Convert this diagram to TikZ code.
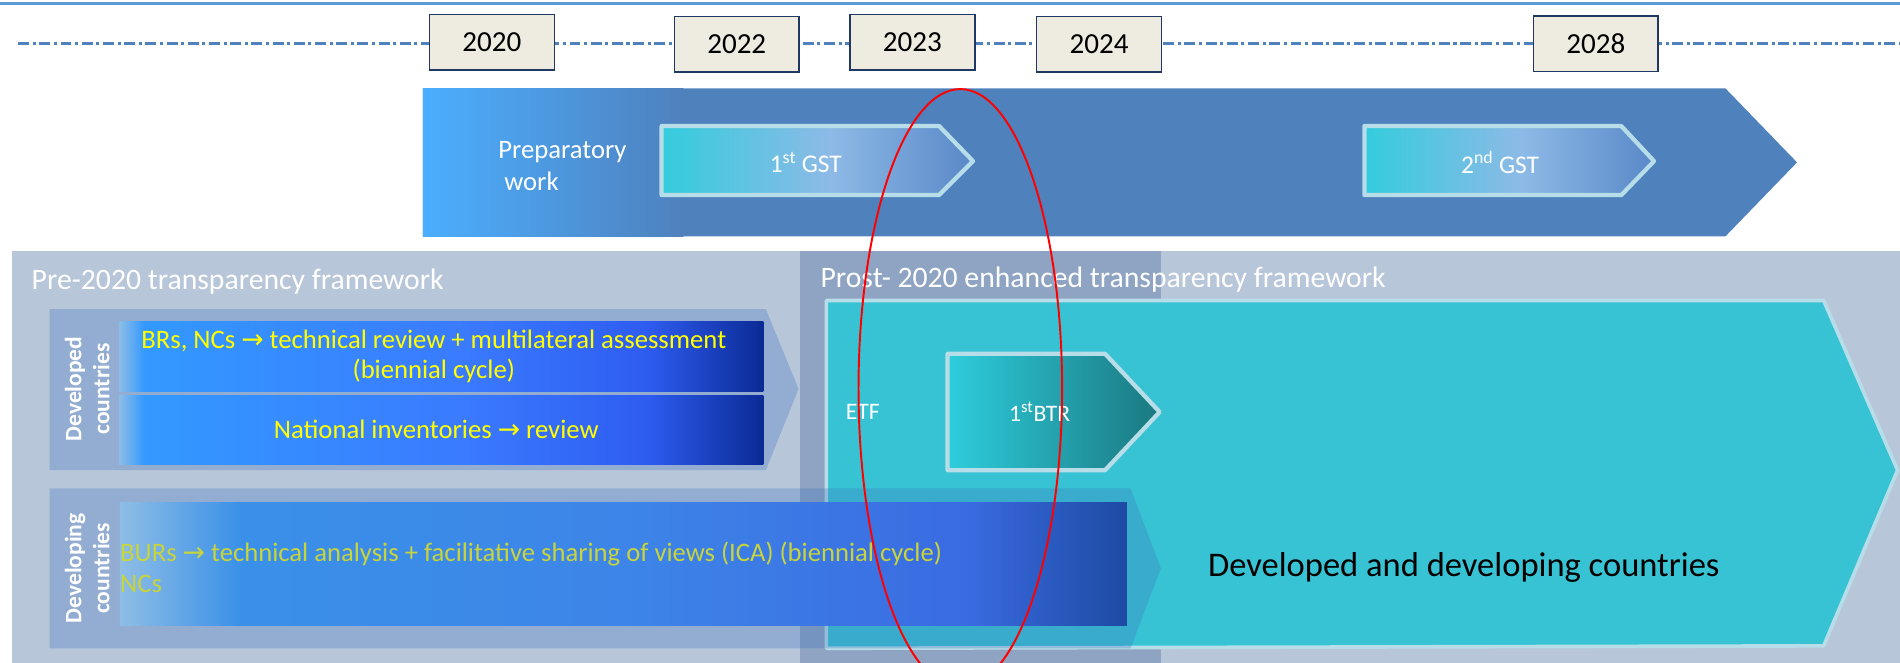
\documentclass[tikz,border=0pt]{standalone}
\usepackage{fontspec}
\setmainfont{Carlito}
\newfontfamily\arrowfont{DejaVu Sans}
\usetikzlibrary{positioning}

\definecolor{topline}{HTML}{5B9BD5}
\definecolor{dashline}{HTML}{4F81BD}
\definecolor{yearfill}{HTML}{EEECE1}
\definecolor{yeardraw}{HTML}{1F3864}
\definecolor{steel}{HTML}{4F81BD}
\definecolor{skyblue}{HTML}{4BAEFF}
\definecolor{paleedge}{HTML}{B7DEE8}
\definecolor{panelbg}{HTML}{B8C6DA}
\definecolor{stripbg}{HTML}{8EA4C2}
\definecolor{groupblue}{HTML}{3D75BD}
\definecolor{etfcyan}{HTML}{38C3D4}
\definecolor{btrleft}{HTML}{2ECDDD}
\definecolor{btrright}{HTML}{1A7880}
\definecolor{gstleft}{HTML}{33CCDD}
\definecolor{gstmid}{HTML}{8DBAE6}
\definecolor{gstright}{HTML}{5A88C8}
\definecolor{barpale}{HTML}{8EBDE6}
\definecolor{devdA}{HTML}{3399FF}
\definecolor{devdB}{HTML}{3A7AFF}
\definecolor{devdC}{HTML}{2E5CF0}
\definecolor{devdD}{HTML}{0A2A95}
\definecolor{devgA}{HTML}{3A90E8}
\definecolor{devgB}{HTML}{3D85E8}
\definecolor{devgC}{HTML}{3A6BE2}
\definecolor{devgD}{HTML}{1D4AA3}
\definecolor{devyellow}{HTML}{FFFF00}
\definecolor{oliveyellow}{HTML}{C8D43C}

\pgfdeclarehorizontalshading{gstshade}{100bp}{color(0bp)=(gstleft); color(25bp)=(gstleft); color(52bp)=(gstmid); color(75bp)=(gstright); color(100bp)=(gstright)}
\pgfdeclarehorizontalshading{devdshade}{100bp}{color(0bp)=(barpale); color(25bp)=(barpale); color(27bp)=(devdA); color(52bp)=(devdB); color(66bp)=(devdC); color(75bp)=(devdD); color(100bp)=(devdD)}
\pgfdeclarehorizontalshading{devgshade}{100bp}{color(0bp)=(barpale); color(25bp)=(barpale); color(31bp)=(devgA); color(50bp)=(devgB); color(67bp)=(devgC); color(75bp)=(devgD); color(100bp)=(devgD)}

\newcommand{\toarrow}{{\arrowfont →}}

\begin{document}
\begin{tikzpicture}[
            x=1pt, y=-1pt,
            yearbox/.style={draw=yeardraw, line width=1.3pt, fill=yearfill, minimum width=103pt, minimum height=46pt, inner sep=0pt, font=\fontsize{24}{28}\selectfont},
            whitetxt/.style={text=white, inner sep=0pt},
            chevedge/.style={draw=paleedge, line width=3.5pt, line join=round},
            grouppanel/.style={fill=groupblue, fill opacity=.3},
            sidelbl/.style={text=white, rotate=90, align=center, inner sep=0pt, font=\bfseries\fontsize{19.4}{23}\selectfont},
            bartxt/.style={text=devyellow, align=center, inner sep=0pt, font=\fontsize{22}{25}\selectfont},
            titletxt/.style={whitetxt, anchor=west, font=\fontsize{24.5}{29}\selectfont}
        ]
            \useasboundingbox (0,0) rectangle (1568,547);

            % Timeline with years
            \draw[topline, line width=2pt] (0,3) -- (1568,3);
            \draw[dashline, line width=2pt, dash pattern=on 9pt off 3pt on 2.5pt off 3pt] (15,36) -- (1568,36);
            \node[yearbox] (y2020) at (406,35) {2020};
            \node[yearbox] (y2022) at (608,36.5) {2022};
            \node[yearbox] (y2023) at (753,35) {2023};
            \node[yearbox] (y2024) at (907,36.5) {2024};
            \node[yearbox] (y2028) at (1317,36) {2028};

            % Global stocktake arrow
            \fill[steel] (349,73) -- (1424,73) -- (1483,134) -- (1424,195) -- (349,195) -- cycle;
            \shade[left color=skyblue, right color=steel] (349,73) rectangle (564,195);
            \node[whitetxt, anchor=west, align=left, font=\fontsize{22}{26}\selectfont] (prep) at (411,137) {Preparatory\\\hspace*{5pt}work};
            \shadedraw[shading=gstshade, chevedge] (546,104) -- (775,104) -- (803,133) -- (775,161) -- (546,161) -- cycle;
            \node[whitetxt, font=\fontsize{21}{24}\selectfont] (gst1) at (665,134) {1\textsuperscript{st} GST};
            \shadedraw[shading=gstshade, chevedge] (1126,104) -- (1338,104) -- (1365,133) -- (1338,161) -- (1126,161) -- cycle;
            \node[whitetxt, font=\fontsize{21}{24}\selectfont] (gst2) at (1238,134) {2\textsuperscript{nd} GST};

            % Transparency frameworks
            \fill[panelbg] (10,207) rectangle (1568,547);
            \fill[stripbg] (660,207) rectangle (958,547);
            \node[titletxt] (pre) at (26,232) {Pre-2020 transparency framework};
            \node[titletxt] (post) at (677,231) {Prost- 2020 enhanced transparency framework};

            % Developed countries
            \fill[grouppanel] (41,255) -- (632,255) -- (659,321) -- (632,388) -- (41,388) -- cycle;
            \shade[shading=devdshade] (98,265) rectangle (630,323);
            \shade[shading=devdshade] (98,326) rectangle (630,383);
            \node[sidelbl] (devd) at (72,321) {Developed\\countries};
            \node[bartxt] (brs) at (358,294) {BRs, NCs \toarrow{} technical review + multilateral assessment\\(biennial cycle)};
            \node[bartxt] (nir) at (360,354) {National inventories \toarrow{} review};

            % Enhanced transparency framework
            \filldraw[fill=etfcyan, draw=paleedge, line width=3pt, line join=round] (682,248) -- (1505,248) -- (1566,388) -- (1505,533) -- (682,535) -- cycle;
            \node[whitetxt, font=\fontsize{19.5}{23}\selectfont] (etf) at (712,340) {ETF};
            \shadedraw[left color=btrleft, right color=btrright, chevedge] (782,292) -- (912,292) -- (957,340) -- (912,388) -- (782,388) -- cycle;
            \node[whitetxt, font=\fontsize{19.5}{23}\selectfont] (btr) at (858,340) {1\textsuperscript{st}BTR};
            \node[inner sep=0pt, font=\fontsize{28.5}{32}\selectfont] (all) at (1208,468) {Developed and developing countries};

            % Developing countries
            \fill[grouppanel] (41,403) -- (933,403) -- (958,469) -- (933,535) -- (41,535) -- cycle;
            \shade[shading=devgshade] (99,415) rectangle (930,516);
            \node[sidelbl] (devg) at (72,469) {Developing\\countries};
            \node[text=oliveyellow, anchor=west, align=left, inner sep=0pt, font=\fontsize{22}{26}\selectfont] (burs) at (99,468) {BURs \toarrow{} technical analysis + facilitative sharing of views (ICA) (biennial cycle)\\NCs};

            % Highlight
            \draw[red, line width=1.6pt] (792.5,320.5) ellipse [x radius=84, y radius=247];
        \end{tikzpicture}
\end{document}
